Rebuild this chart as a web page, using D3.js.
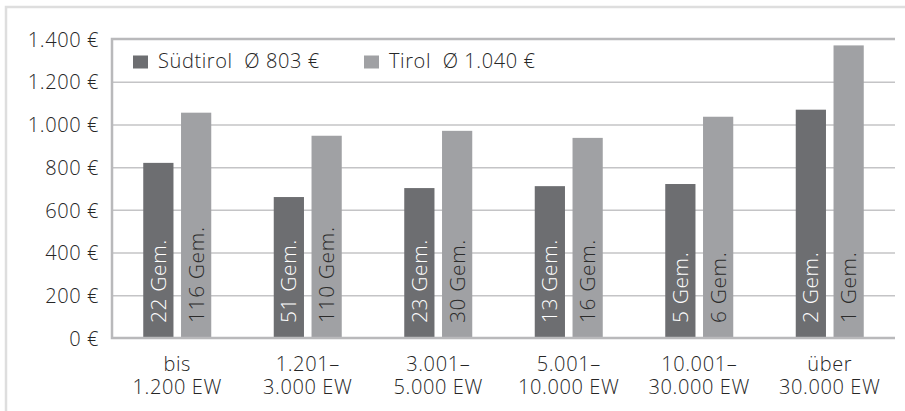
<!DOCTYPE html>
<html lang="de">
<head>
<meta charset="utf-8">
<script src="https://cdn.jsdelivr.net/npm/d3@7"></script>
<style>
  html, body { margin: 0; padding: 0; background: #fff; }
  svg { display: block; font-family: "Open Sans", Lato, sans-serif; font-weight: 300; letter-spacing: 0.6px; }
</style>
</head>
<body>
<svg id="chart" width="905" height="411"></svg>
<script>
// Größenklassen der Gemeinden (zweizeilige Achsenbeschriftung)
const categories = [
  ["bis", "1.200 EW"],
  ["1.201–", "3.000 EW"],
  ["3.001–", "5.000 EW"],
  ["5.001–", "10.000 EW"],
  ["10.001–", "30.000 EW"],
  ["über", "30.000 EW"]
];
const seriesNames = ["Südtirol", "Tirol"];
const legendLabels = ["Südtirol  Ø 803 €", "Tirol  Ø 1.040 €"];
// Durchschnittswerte je Größenklasse in €
const suedtirolValues = [820, 660, 702, 711, 721, 1069];
const tirolValues = [1055, 947, 970, 937, 1036, 1370];
// Anzahl der Gemeinden je Größenklasse
const suedtirolCounts = [22, 51, 23, 13, 5, 2];
const tirolCounts = [116, 110, 30, 16, 6, 1];
const yTicks = [0, 200, 400, 600, 800, 1000, 1200, 1400];

const colors = { "Südtirol": "#6d6e71", "Tirol": "#a0a1a4" };
const countColors = { "Südtirol": "#ffffff", "Tirol": "#2b2b2b" };
const textColor = "#262626";
const fontSize = 20;

const svg = d3.select("#chart");
const margin = { left: 112, right: 10, top: 39, bottom: 73 };
const W = 905, H = 411;
const plotW = W - margin.left - margin.right;

const de = d3.formatLocale({ decimal: ",", thousands: ".", grouping: [3], currency: ["", " €"] });
const fmtEuro = v => de.format(",.0f")(v) + " €";

const rows = categories.map((c, i) => ({
  key: c.join(" "),
  label: c,
  values: [
    { series: "Südtirol", value: suedtirolValues[i], count: suedtirolCounts[i] },
    { series: "Tirol", value: tirolValues[i], count: tirolCounts[i] }
  ]
}));

const x0 = d3.scaleBand().domain(rows.map(d => d.key)).range([margin.left, W - margin.right]);
const groupW = 68;
const x1 = d3.scaleBand().domain(seriesNames).range([0, groupW]).paddingInner(0.2);
const y = d3.scaleLinear().domain([0, 1400]).range([338, 39]);

// äußerer Rahmen
svg.append("path")
  .attr("d", `M6,411 V7 H905`)
  .attr("fill", "none").attr("stroke", "#dedede").attr("stroke-width", 2.5);

// Gitterlinien
const grid = svg.append("g").attr("transform", `translate(${margin.left},0)`)
  .call(d3.axisLeft(y).tickValues(yTicks.slice(1, -1)).tickSize(-plotW).tickFormat(""));
grid.select(".domain").remove();
grid.selectAll(".tick line").attr("stroke", "#c4c4c6").attr("stroke-width", 1.5);

// y-Achsenbeschriftung
const yAxis = svg.append("g").attr("transform", `translate(${margin.left},0)`)
  .call(d3.axisLeft(y).tickValues(yTicks).tickSize(0).tickPadding(13).tickFormat(fmtEuro))
  .attr("font-family", null).attr("font-size", null);
yAxis.select(".domain").remove();
yAxis.selectAll("text").attr("font-size", fontSize).attr("fill", textColor).attr("dy", "0.36em");

// Balken
const groups = svg.append("g").selectAll("g").data(rows).join("g")
  .attr("transform", d => `translate(${x0(d.key) + (x0.bandwidth() - groupW) / 2},0)`);

groups.selectAll("rect").data(d => d.values).join("rect")
  .attr("x", d => x1(d.series))
  .attr("width", x1.bandwidth())
  .attr("y", d => y(d.value))
  .attr("height", d => y(0) - y(d.value))
  .attr("fill", d => colors[d.series]);

// Anzahl der Gemeinden (senkrecht im Balken)
groups.selectAll("text.count").data(d => d.values).join("text")
  .attr("class", "count")
  .attr("transform", d => `translate(${x1(d.series) + x1.bandwidth() / 2 + 7.5},${y(0) - 15}) rotate(-90)`)
  .attr("font-size", 21)
  .attr("fill", d => countColors[d.series])
  .text(d => `${d.count} Gem.`);

// Rahmen der Zeichenfläche: links, oben, unten
svg.append("path")
  .attr("d", `M${W - margin.right},${y(1400)} H${margin.left} V${y(0)} H${W - margin.right}`)
  .attr("fill", "none").attr("stroke", "#b9b9bb").attr("stroke-width", 2.5);

// x-Achsenbeschriftung
const xLab = svg.append("g").selectAll("text").data(rows).join("text")
  .attr("text-anchor", "middle")
  .attr("font-size", fontSize)
  .attr("fill", textColor);
xLab.selectAll("tspan").data(d => d.label.map(l => ({ l, x: x0(d.key) + x0.bandwidth() / 2 }))).join("tspan")
  .attr("x", d => d.x)
  .attr("y", (d, i) => 371 + i * 23)
  .text(d => d.l);

// Legende
const legend = svg.append("g");
const legendX = [133, 364];
legendLabels.forEach((lbl, i) => {
  legend.append("rect").attr("x", legendX[i]).attr("y", 55.5).attr("width", 15).attr("height", 13)
    .attr("fill", colors[seriesNames[i]]);
  legend.append("text").attr("x", legendX[i] + 25).attr("y", 67.5)
    .attr("font-size", fontSize).attr("fill", textColor)
    .attr("xml:space", "preserve").style("white-space", "pre")
    .text(lbl);
});
</script>
</body>
</html>
